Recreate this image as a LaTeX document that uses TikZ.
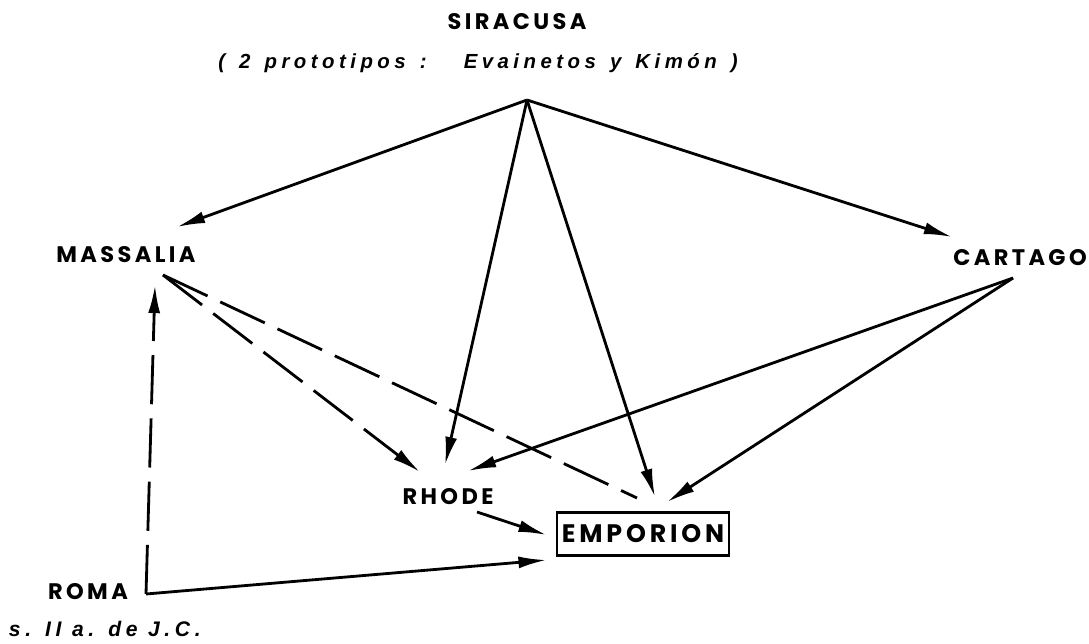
\documentclass[tikz,border=0pt]{standalone}
\usepackage{fontspec}
\setmainfont{Poppins}
\newfontfamily\etiqueta{Poppins}[LetterSpace=15]
\newfontfamily\obliqua{Liberation Sans}[LetterSpace=22]
\usetikzlibrary{arrows.meta, calc}

\begin{document}
\begin{tikzpicture}[
    x=0.025cm, y=-0.025cm,
    ciudad/.style={font=\etiqueta\bfseries\fontsize{16}{18}\selectfont, inner sep=2pt},
    nota/.style={font=\obliqua\bfseries\itshape\fontsize{14.5}{16}\selectfont},
    flecha/.style={-{Latex[length=20pt,width=8.5pt]}, line width=2pt},
    rayada/.style={line width=2pt, dash pattern=on 35pt off 10pt},
]
\useasboundingbox (0,0) rectangle (1089,643);

% Ciudades
\node[ciudad] (siracusa) at (517,22) {SIRACUSA};
\node[nota] (prototipos) at (478,63)
    {\spaceskip=10pt\relax ( 2 prototipos :\hspace{14pt} Evainetos y Kimón )};
\coordinate (vertice) at (527,100);

\node[ciudad] (massalia) at (126,255) {MASSALIA};
\node[ciudad] (cartago) at (1020,258) {CARTAGO};
\node[ciudad] (rhode) at (448,497) {RHODE};
\node[ciudad, font=\etiqueta\bfseries\fontsize{18}{20}\selectfont, draw, line width=2pt,
      minimum width=4.3cm, minimum height=1.07cm] (emporion) at (643,534) {EMPORION};
\node[ciudad] (roma) at (88,592) {ROMA};
\coordinate (esquina) at (146,594);

\node[nota, anchor=west, font=\obliqua\bfseries\itshape\fontsize{15}{17}\selectfont] (siglo) at (4,629) {s. II a. de J.C.};

% Desde Siracusa
\draw[flecha] (vertice) -- ($(massalia)+(51,-28)$);
\draw[flecha] (vertice) -- ($(cartago)+(-68,-21)$);
\draw[flecha] (vertice) -- ($(rhode)+(-3,-32)$);
\draw[flecha] (vertice) -- ($(emporion)+(12,-37)$);

% Desde Cartago
\draw[flecha] ($(cartago)+(-7,20)$) -- ($(rhode)+(20,-26)$);
\draw[flecha] ($(cartago)+(-7,20)$) -- ($(emporion)+(24,-32)$);

% Desde Massalia
\draw[rayada, -{Latex[length=20pt,width=8.5pt]}] ($(massalia)+(37,20)$) -- ($(rhode)+(-28,-25)$);
\draw[rayada] ($(massalia)+(37,20)$) -- ($(emporion)+(-6,-36)$);

% Rhode y Roma
\draw[flecha] ($(rhode)+(29,15)$) -- ($(emporion.west)+(-9,1)$);
\draw[flecha] (esquina) -- ($(emporion.west)+(-9,26)$);
\draw[rayada, -{Latex[length=20pt,width=8.5pt]}] (esquina) -- ($(massalia)+(29,30)$);

\end{tikzpicture}
\end{document}
